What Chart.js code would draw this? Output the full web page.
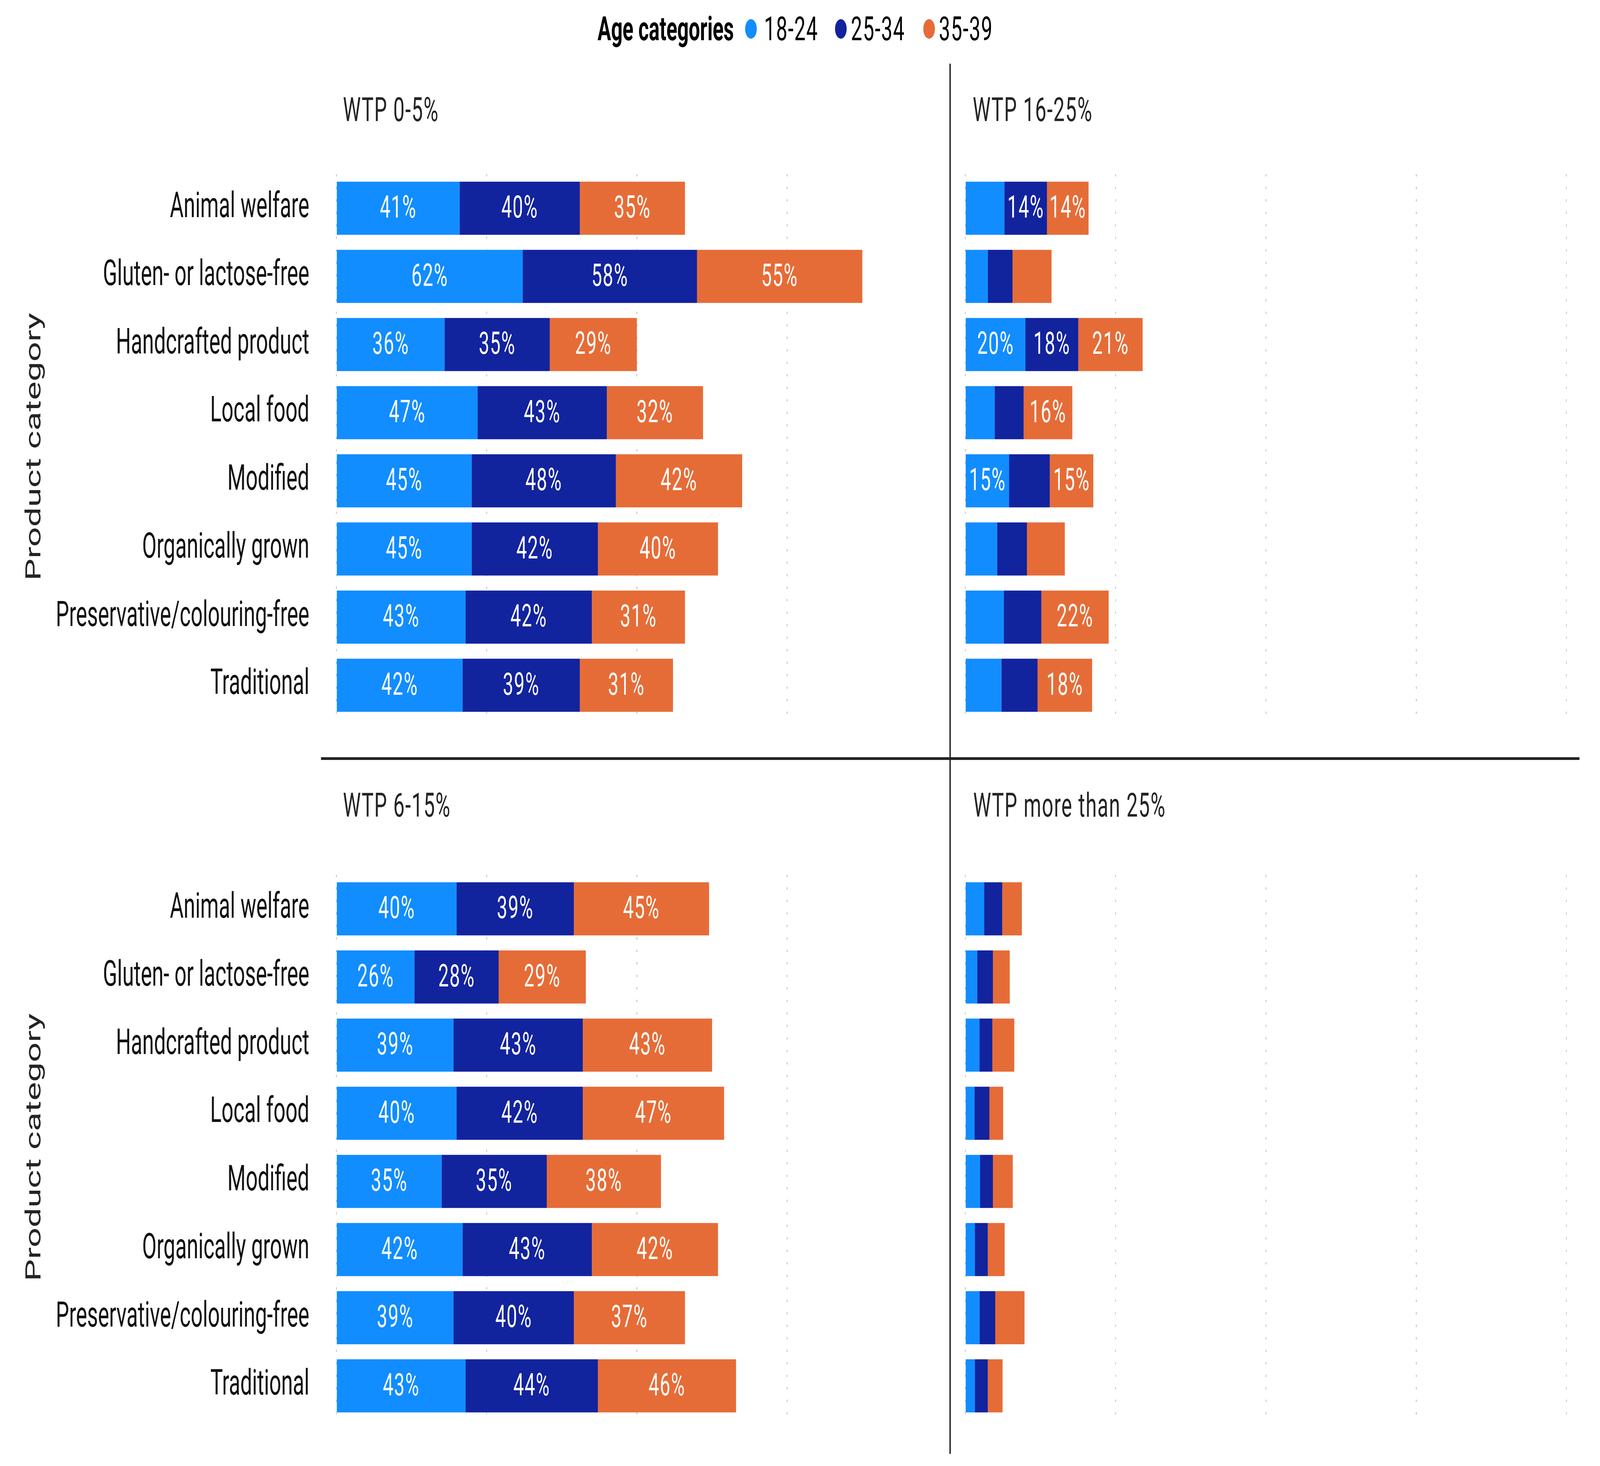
<!DOCTYPE html>
<html><head><meta charset="utf-8">
<script src="https://cdn.jsdelivr.net/npm/chart.js@4.4.1/dist/chart.umd.min.js"></script>
<style>
html,body{margin:0;padding:0;background:#fff;width:100%;height:100%;overflow:hidden;font-family:Roboto,sans-serif;}
#stage{position:absolute;left:0;top:0;width:6854px;height:3754px;transform-origin:0 0;background:#fff;}
canvas{position:absolute;}
.t{position:absolute;font-family:Roboto,sans-serif;font-size:86px;color:#252423;white-space:nowrap;line-height:86px;height:86px;letter-spacing:3px;}
.dot{position:absolute;width:50px;height:50px;border-radius:50%;}
.line{position:absolute;background:#252423;}
</style></head><body>
<div id="stage">
<canvas id="cTL"></canvas>
<canvas id="cTR"></canvas>
<canvas id="cBL"></canvas>
<canvas id="cBR"></canvas>

<div class="t" style="left:2560px;top:31px;font-weight:bold;letter-spacing:0px;color:#000">Age categories</div>
<div class="dot" style="left:3192px;top:49px;background:#118DFF"></div>
<div class="t" style="left:3273px;top:31px;color:#000">18-24</div>
<div class="dot" style="left:3577px;top:49px;background:#12239E"></div>
<div class="t" style="left:3645px;top:31px;color:#000">25-34</div>
<div class="dot" style="left:3955px;top:49px;background:#E66C37"></div>
<div class="t" style="left:4022px;top:31px;color:#000">35-39</div>

<div class="t" style="left:1469px;top:238px">WTP 0-5%</div>
<div class="t" style="left:4167px;top:238px">WTP 16-25%</div>
<div class="t" style="left:1469px;top:2019px">WTP 6-15%</div>
<div class="t" style="left:4169px;top:2019px">WTP more than 25%</div>

<div class="line" style="left:1375px;top:1939px;width:5391px;height:7px"></div>
<div class="line" style="left:4067px;top:163px;width:6px;height:3560px"></div>
</div>

<script>
// ---- data ----
const categories = ['Animal welfare','Gluten- or lactose-free','Handcrafted product','Local food','Modified','Organically grown','Preservative/colouring-free','Traditional'];
const ageGroups = ['18-24','25-34','35-39'];
const ageColors = ['#118DFF','#12239E','#E66C37'];

const wtp0_5_age18_24 = [41,62,36,47,45,45,43,42];
const wtp0_5_age25_34 = [40,58,35,43,48,42,42,39];
const wtp0_5_age35_39 = [35,55,29,32,42,40,31,31];

const wtp16_25_age18_24 = [13.0,7.5,20.0,9.8,14.6,10.6,12.8,12.0];
const wtp16_25_age25_34 = [14.2,8.2,17.6,9.6,13.5,9.9,12.5,12.0];
const wtp16_25_age35_39 = [13.8,13.0,21.4,16.2,14.5,12.6,22.4,18.2];

const wtp6_15_age18_24 = [40,26,39,40,35,42,39,43];
const wtp6_15_age25_34 = [39,28,43,42,35,43,40,44];
const wtp6_15_age35_39 = [45,29,43,47,38,42,37,46];

const wtpOver25_age18_24 = [6.3,4.0,4.7,3.1,4.9,3.2,4.8,3.2];
const wtpOver25_age25_34 = [6.0,5.2,4.3,4.9,4.3,4.3,5.2,4.3];
const wtpOver25_age35_39 = [6.5,5.6,7.3,4.6,6.6,5.6,9.7,4.9];

const gridTicks = [0,50,100,150,200];
const labelMin = 13.75;

// fit the 6854x3754 design to the actual window
const W = 6854, H = 3754;
function fitStage(){
  const vw = window.innerWidth || W, vh = window.innerHeight || H;
  document.getElementById('stage').style.transform = 'scale(' + (vw/W) + ',' + (vh/H) + ')';
}
fitStage();
window.addEventListener('resize', fitStage);

// ---- drawing ----
const valueLabels = {
  id:'valueLabels',
  afterDatasetsDraw(chart){
    const ctx = chart.ctx;
    ctx.save();
    ctx.font = '80px Roboto';
    try{ ctx.letterSpacing = '3px'; }catch(e){}
    ctx.fillStyle = '#ffffff';
    ctx.textAlign = 'center';
    ctx.textBaseline = 'middle';
    chart.data.datasets.forEach((ds,i)=>{
      chart.getDatasetMeta(i).data.forEach((bar,j)=>{
        const v = ds.data[j];
        if (v >= labelMin){
          ctx.fillText(Math.round(v)+'%', (bar.x+bar.base)/2, bar.y+4);
        }
      });
    });
    ctx.restore();
  }
};

function makeChart(id, left, top, width, height, padTop, padBottom, yWidth, xMax, showLabels, s1, s2, s3){
  const cv = document.getElementById(id);
  cv.width = width; cv.height = height;
  cv.style.left = left+'px'; cv.style.top = top+'px';
  cv.style.width = width+'px'; cv.style.height = height+'px';
  const series = [s1,s2,s3];
  return new Chart(cv, {
    type:'bar',
    data:{
      labels: categories,
      datasets: ageGroups.map((g,i)=>({
        label:g, data:series[i], backgroundColor:ageColors[i],
        barPercentage:0.78, categoryPercentage:1.0, borderWidth:0
      }))
    },
    options:{
      indexAxis:'y',
      responsive:false,
      devicePixelRatio:1,
      animation:false,
      layout:{padding:{top:padTop,bottom:padBottom,left:0,right:0}},
      plugins:{legend:{display:false},tooltip:{enabled:false},title:{display:false}},
      scales:{
        x:{
          stacked:true, min:0, max:xMax,
          ticks:{display:false, stepSize:50},
          afterBuildTicks:(s)=>{ s.ticks = gridTicks.filter(v=>v<=s.max).map(v=>({value:v})); },
          afterFit:(s)=>{ s.height = 0; s.paddingLeft = 0; s.paddingRight = 0; },
          grid:{display:true, color:'#c8c6c4', lineWidth:4, drawTicks:false},
          border:{display:false, dash:[6,26]}
        },
        y:{
          stacked:true,
          afterFit:(s)=>{ s.width = yWidth; s.paddingTop = 0; s.paddingBottom = 0; },
          grid:{display:false, drawTicks:false},
          border:{display:false},
          ticks:{display:showLabels, padding:116, color:'#111111', font:{family:'Roboto', size:90}},
          title:{display:showLabels, text:'Product category', color:'#252423',
                 font:{family:'Roboto', size:90}, padding:{top:96,bottom:0}}
        }
      }
    },
    plugins:[valueLabels]
  });
}

function build(){
  makeChart('cTL', 0, 0, 3990, 1900, 446, 58, 1441, 198, true, wtp0_5_age18_24, wtp0_5_age25_34, wtp0_5_age35_39);
  makeChart('cBL', 0, 1950, 3990, 1750, 290, 64, 1441, 198, true, wtp6_15_age18_24, wtp6_15_age25_34, wtp6_15_age35_39);
  makeChart('cTR', 4080, 0, 2700, 1900, 446, 58, 55, 205.4, false, wtp16_25_age18_24, wtp16_25_age25_34, wtp16_25_age35_39);
  makeChart('cBR', 4080, 1950, 2700, 1750, 290, 64, 55, 205.4, false, wtpOver25_age18_24, wtpOver25_age25_34, wtpOver25_age35_39);
}
if (document.fonts && document.fonts.load){
  Promise.all([document.fonts.load('90px Roboto'), document.fonts.load('bold 86px Roboto')]).then(build, build);
} else { build(); }
</script>
</body></html>
